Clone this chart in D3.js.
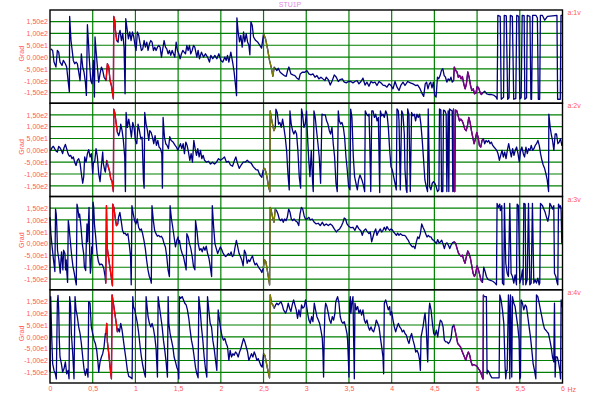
<!DOCTYPE html>
<html>
<head>
<meta charset="utf-8">
<script src="https://cdn.jsdelivr.net/npm/d3@7"></script>
<style>
  body { margin: 0; background: #fff; }
  text { font-family: "Liberation Sans", Arial, sans-serif; }
</style>
</head>
<body>
<script>
const title = "STU1P";
const channels = ["a:1v", "a:2v", "a:3v", "a:4v"];
const yLabel = "Grad";
const yTicks = [150, 100, 50, 0, -50, -100, -150];
const yTickLabels = ["1,50e2", "1,00e2", "5,00e1", "0,00e0", "-5,00e1", "-1,00e2", "-1,50e2"];
const xTicks = [0, 0.5, 1, 1.5, 2, 2.5, 3, 3.5, 4, 4.5, 5, 5.5, 6];
const xTickLabels = ["0", "0,5", "1", "1,5", "2", "2,5", "3", "3,5", "4", "4,5", "5", "5,5", "6"];
const xUnit = "Hz";
// highlighted frequency bands (Hz)
const bandRanges = [[0.65, 0.795], [2.485, 2.64], [4.72, 5.075]];

// [Hz, Grad]
const grad1 = [[0.008,35],[0.031,28],[0.047,-21],[0.070,-42],[0.086,28],[0.102,21],[0.117,-21],[0.141,-35],[0.156,-14],[0.180,-28],[0.195,-42],[0.215,-110],[0.227,-148],[0.230,172],[0.246,70],[0.262,21],[0.273,-14],[0.289,-28],[0.305,-21],[0.320,-28],[0.336,-63],[0.352,-99],[0.367,14],[0.383,-42],[0.398,-63],[0.414,-106],[0.426,-162],[0.438,137],[0.449,70],[0.461,-14],[0.477,-99],[0.492,-113],[0.508,-14],[0.520,-169],[0.527,85],[0.539,28],[0.555,-42],[0.570,-106],[0.586,-70],[0.602,-42],[0.617,-56],[0.633,-85],
  [0.656,-99],[0.672,-28],[0.688,-42],[0.703,-99],[0.719,-120],[0.730,-148],[0.742,-176],[0.746,172],[0.758,155],[0.766,113],[0.781,70],[0.797,63],
  [0.805,92],[0.820,113],[0.836,70],[0.852,99],[0.867,42],[0.879,-155],[0.887,162],[0.902,120],[0.918,77],[0.934,106],[0.949,70],[0.965,106],[0.980,85],[0.996,49],[1.008,28],[1.023,106],[1.039,92],[1.055,56],[1.070,28],[1.086,35],[1.102,70],[1.117,42],[1.133,63],[1.148,28],[1.164,56],[1.180,70],[1.195,63],[1.211,28],[1.227,42],[1.242,28],[1.258,42],[1.273,49],[1.289,42],[1.305,0],[1.320,35],[1.336,70],[1.352,42],[1.367,35],[1.383,14],[1.398,28],[1.414,7],[1.430,28],[1.445,14],[1.461,0],[1.477,63],[1.492,28],[1.508,14],[1.523,-7],[1.539,14],[1.555,28],[1.570,21],[1.586,14],[1.602,49],[1.617,28],[1.633,49],[1.648,14],[1.664,28],[1.680,49],[1.695,42],
  [1.719,0],[1.734,28],[1.750,-7],[1.773,21],[1.797,0],[1.820,14],[1.844,0],[1.867,-21],[1.883,7],[1.906,-7],[1.930,7],[1.953,-7],[1.977,14],[2.000,-14],[2.023,-21],[2.047,0],[2.063,-14],[2.078,7],[2.094,-21],[2.117,21],[2.141,-28],[2.156,-64],[2.172,-120],[2.184,-163],[2.188,166],[2.203,106],[2.219,64],[2.234,92],[2.250,42],[2.266,106],[2.281,64],[2.297,99],[2.313,64],[2.328,50],[2.340,10],[2.352,149],[2.367,135],[2.383,85],[2.406,71],[2.430,64],[2.453,52],[2.477,38],
  [2.500,99],[2.523,78],[2.547,35],[2.570,-14],[2.594,-50],[2.609,-81],
  [2.625,-42],[2.641,-50],[2.656,-57],[2.672,-47],[2.695,-64],[2.719,-71],[2.742,-78],[2.766,-81],[2.781,-57],[2.797,-42],[2.820,-71],[2.844,-75],[2.867,-78],[2.891,-89],[2.914,-95],[2.930,-71],[2.953,-64],[2.984,-64],[3.008,-57],[3.031,-71],[3.055,-75],[3.078,-71],[3.102,-85],[3.125,-78],[3.148,-92],[3.172,-85],[3.195,-92],[3.219,-99],[3.234,-85],[3.258,-95],[3.281,-118],[3.305,-99],[3.328,-75],[3.352,-85],[3.375,-103],[3.398,-95],[3.422,-92],[3.445,-106],[3.469,-109],[3.492,-103],[3.523,-103],[3.547,-109],[3.570,-103],[3.594,-99],[3.617,-113],[3.641,-103],[3.664,-89],[3.688,-118],[3.711,-106],[3.734,-123],[3.758,-103],[3.781,-109],[3.805,-106],[3.828,-120],[3.852,-103],[3.875,-109],[3.898,-118],[3.922,-120],[3.945,-127],[3.969,-113],[3.992,-120],[4.016,-134],[4.039,-103],[4.063,-127],[4.086,-141],[4.109,-118],[4.133,-106],[4.156,-120],[4.188,-103],[4.219,-109],[4.250,-113],[4.281,-120],[4.305,-118],[4.328,-131],[4.352,-151],[4.375,-166],
  [4.393,-113],[4.409,-106],[4.425,-134],[4.441,-113],[4.457,-106],[4.472,-130],[4.488,-106],[4.504,-162],[4.520,-169],[4.536,-85],[4.551,-92],[4.567,-78],[4.583,-56],[4.599,-49],[4.615,-78],[4.630,-85],[4.646,-106],[4.662,-92],[4.678,-99],[4.694,-85],[4.709,-106],[4.725,-99],
  [4.733,-42],[4.749,-56],[4.765,-63],[4.781,-85],[4.796,-78],[4.812,-92],[4.828,-82],[4.844,-113],[4.860,-134],[4.875,-113],[4.891,-63],[4.907,-85],[4.923,-120],[4.939,-141],[4.955,-134],[4.970,-155],[4.986,-152],[5.002,-124],[5.018,-130],[5.034,-148],[5.049,-158],[5.065,-152],
  [5.089,-144],[5.113,-155],[5.136,-158],[5.168,-158],[5.200,-162],[5.223,-169],[5.235,-178],[5.243,176],[5.271,172],[5.283,-178],[5.310,-170],[5.318,176],[5.342,174],[5.358,-178],[5.374,-172],[5.389,176],[5.413,172],[5.429,-178],[5.453,-175],[5.464,176],[5.488,172],[5.500,-177],[5.516,-172],[5.528,176],[5.551,175],[5.559,-178],[5.579,-172],[5.587,176],[5.619,172],[5.630,-178],[5.638,-178],[5.650,176],[5.690,176],[5.706,165],[5.717,-178],[5.733,-178],[5.741,176],[5.765,176],[5.792,156],[5.824,172],[5.883,174],[5.935,176],[5.943,-178],[5.974,-178],[5.982,176],[6.0,176]];

const grad2 = [[0.008,0],[0.023,11],[0.039,17],[0.055,7],[0.070,-3],[0.086,-7],[0.102,17],[0.117,11],[0.133,0],[0.148,-14],[0.164,11],[0.180,25],[0.195,7],[0.211,-14],[0.227,-25],[0.242,-21],[0.258,-35],[0.273,-28],[0.289,-50],[0.305,-64],[0.320,-42],[0.336,-35],[0.352,-54],[0.367,-99],[0.383,-139],[0.395,-111],[0.406,-28],[0.422,-50],[0.438,-14],[0.453,3],[0.469,-28],[0.484,-14],[0.500,-99],[0.508,-50],[0.523,-50],[0.539,7],[0.555,-28],[0.570,-99],[0.586,-132],[0.602,-64],[0.617,-7],[0.625,-56],[0.641,-85],[0.648,-92],
  [0.664,-42],[0.680,-67],[0.695,-85],[0.711,-120],[0.727,-132],[0.742,-174],[0.746,174],[0.758,160],[0.773,118],[0.789,76],
  [0.805,62],[0.820,83],[0.828,111],[0.844,83],[0.859,42],[0.875,-28],[0.883,-174],[0.891,160],[0.906,97],[0.922,132],[0.938,97],[0.953,56],[0.969,118],[0.984,97],[1.000,42],[1.016,28],[1.031,111],[1.047,83],[1.063,49],[1.078,56],[1.094,-125],[1.102,-160],[1.109,160],[1.125,111],[1.141,83],[1.156,42],
  [1.168,83],[1.184,76],[1.199,56],[1.215,28],[1.230,62],[1.246,21],[1.262,42],[1.277,14],[1.293,7],[1.309,-14],[1.316,-160],[1.324,139],[1.340,56],[1.355,28],[1.371,21],[1.387,7],[1.402,58],[1.418,42],[1.441,35],[1.465,21],[1.480,14],[1.496,0],[1.512,14],[1.527,28],[1.543,7],[1.559,28],[1.574,-14],[1.590,35],[1.605,21],[1.621,-7],[1.637,-42],[1.652,-14],[1.668,-50],[1.684,42],[1.699,7],[1.715,-21],[1.730,7],[1.746,-28],[1.762,0],[1.777,-35],[1.793,-21],[1.809,-42],[1.832,-50],[1.855,-46],[1.879,-58],[1.902,-50],[1.926,-58],[1.949,-50],[1.973,-35],[1.996,-42],[2.020,-35],[2.043,-28],[2.066,-50],[2.090,-46],[2.113,-62],[2.137,-67],[2.160,-42],[2.176,-28],[2.191,-50],[2.215,-76],[2.238,-62],[2.262,-50],[2.285,-50],[2.309,-42],[2.332,-50],[2.355,-54],[2.379,-69],[2.410,-81],[2.434,-83],[2.457,-104],[2.480,-114],
  [2.496,-83],[2.512,-76],[2.527,-90],[2.543,-118],[2.559,-153],[2.574,-174],[2.578,167],[2.590,139],[2.605,111],[2.621,83],[2.637,97],
  [2.645,174],[2.660,160],[2.676,111],[2.691,118],[2.707,97],[2.723,132],[2.738,97],[2.754,56],[2.770,0],[2.785,-97],[2.801,-167],[2.809,167],[2.824,111],[2.840,83],[2.855,69],[2.871,83],[2.887,69],[2.902,0],[2.918,-111],[2.934,-160],[2.945,175],[2.957,153],[2.973,97],[2.988,111],[3.004,167],[3.012,83],[3.027,-28],[3.043,-111],[3.059,0],[3.074,-132],[3.082,-174],[3.090,167],[3.105,139],[3.121,83],[3.137,28],[3.152,-28],[3.168,-139],[3.184,153],[3.199,150],[3.223,150],[3.238,125],[3.254,111],[3.270,83],[3.285,69],[3.301,97],[3.316,28],[3.332,-28],[3.348,-139],[3.363,-174],[3.375,167],[3.387,125],[3.402,111],[3.418,118],[3.434,97],[3.449,56],[3.465,-28],[3.480,-83],[3.496,-153],[3.512,-167],[3.520,174],[3.535,139],[3.551,-28],[3.566,-111],[3.582,-139],[3.598,-167],[3.613,-125],[3.629,-104],[3.652,-125],[3.668,-146],[3.684,-174],[3.691,167],[3.707,153],[3.724,146],
  [3.735,153],[3.743,42],[3.755,-174],[3.767,167],[3.782,167],[3.798,139],[3.813,153],[3.829,125],[3.844,139],[3.860,-178],[3.868,167],[3.883,146],[3.899,153],[3.914,139],[3.930,167],[3.946,153],[3.961,97],[3.977,0],[3.992,-69],[4.008,-83],[4.023,-111],[4.039,-139],[4.054,-167],[4.062,175],[4.078,167],[4.086,125],[4.101,-167],[4.117,167],[4.132,153],[4.148,69],[4.156,-83],[4.171,-167],[4.179,-178],[4.187,175],[4.202,153],[4.218,-174],[4.233,160],[4.249,146],[4.265,153],[4.280,125],[4.296,153],[4.311,139],[4.327,153],[4.342,111],[4.358,42],[4.374,-42],[4.389,-125],[4.405,-153],[4.420,-174],[4.428,175],[4.444,-153],[4.459,-167],[4.475,-139],[4.490,-132],[4.506,-139],[4.521,-153],[4.537,-174],[4.553,-167],[4.560,175],[4.576,170],[4.584,-174],[4.599,-174],[4.607,170],[4.623,167],[4.638,153],[4.646,-174],[4.661,167],[4.669,-174],[4.677,175],[4.693,170],[4.708,167],[4.716,-174],[4.724,175],
  [4.732,-174],[4.739,-174],[4.747,170],[4.763,167],[4.778,146],[4.794,125],[4.809,132],[4.825,125],[4.840,111],[4.856,90],[4.872,83],[4.887,104],[4.903,139],[4.918,118],[4.934,83],[4.949,56],[4.965,28],[4.981,49],[4.996,76],[5.012,56],[5.027,21],[5.043,14],[5.058,42],
  [5.074,49],[5.089,28],[5.105,42],[5.121,35],[5.136,42],[5.152,28],[5.167,35],[5.183,21],[5.198,14],[5.214,7],[5.230,0],[5.245,-14],[5.261,-42],[5.276,-21],[5.292,0],[5.307,-28],[5.323,-7],[5.339,-35],[5.354,0],[5.370,28],[5.385,0],[5.401,-28],[5.416,7],[5.432,-21],[5.447,0],[5.463,14],[5.479,-14],[5.494,-49],[5.510,0],[5.525,14],[5.541,-14],[5.556,-28],[5.572,14],[5.588,-14],[5.603,7],[5.619,0],[5.634,21],[5.650,0],[5.665,7],[5.681,21],[5.696,28],[5.712,42],[5.728,21],[5.743,-14],[5.759,-42],[5.774,-62],[5.790,-76],[5.805,-97],[5.821,-125],[5.837,-174],[5.840,153],[5.856,97],[5.868,69],[5.883,42],[5.899,0],[5.914,69],[5.930,69],[5.946,28],[5.961,35],[5.977,49],[5.992,21],[6.0,28]];

const grad3 = [[0.0,111],[0.010,42],[0.025,-14],[0.041,-69],[0.057,-118],[0.065,146],[0.073,125],[0.080,69],[0.088,-28],[0.104,-69],[0.120,-125],[0.127,-76],[0.135,-35],[0.151,-111],[0.159,-28],[0.175,-42],[0.182,-111],[0.190,-69],[0.198,-125],[0.206,-164],[0.214,97],[0.222,76],[0.237,14],[0.253,-49],[0.269,-97],[0.284,-125],[0.300,-160],[0.308,-174],[0.316,167],[0.324,153],[0.339,111],[0.347,125],[0.363,69],[0.378,0],[0.394,-42],[0.402,-97],[0.418,-114],[0.425,0],[0.433,83],[0.441,7],[0.457,153],[0.465,-42],[0.473,-125],[0.480,-97],[0.488,-14],[0.496,-42],[0.504,175],[0.512,153],[0.520,83],[0.535,28],[0.551,-42],[0.567,-76],[0.582,-90],[0.598,-86],[0.614,-90],[0.629,-104],[0.645,-139],
  [0.653,-167],[0.661,160],[0.669,-14],[0.684,-55],[0.700,-97],[0.716,-139],[0.731,-178],[0.735,167],[0.747,153],[0.763,111],[0.778,76],[0.794,83],
  [0.802,111],[0.818,132],[0.833,97],[0.849,56],[0.865,42],[0.880,44],[0.896,35],[0.912,42],[0.927,0],[0.943,-55],[0.951,-174],[0.959,160],[0.975,125],[0.990,97],[1.006,83],[1.022,104],[1.037,69],[1.053,56],[1.069,62],[1.084,42],[1.100,14],[1.116,-21],[1.131,-69],[1.147,-111],[1.163,-139],[1.178,-153],[1.186,-167],[1.194,160],[1.210,97],[1.225,56],[1.241,42],[1.257,31],[1.273,35],[1.288,28],[1.304,31],[1.320,21],[1.335,0],[1.351,-14],[1.367,-55],[1.382,-111],[1.398,-139],[1.406,160],[1.422,104],[1.437,69],[1.453,28],[1.469,-14],[1.484,14],[1.500,28],[1.508,0],[1.516,14],[1.531,-21],[1.547,-42],[1.563,-55],[1.578,-83],[1.594,-111],[1.602,42],[1.618,28],[1.633,0],[1.649,-21],[1.665,-55],[1.680,-97],[1.696,-111],[1.704,97],[1.720,56],[1.735,0],[1.751,-28],[1.767,-21],[1.782,-35],[1.798,-14],[1.814,-28],[1.829,-11],[1.845,-42],[1.861,-62],[1.876,-97],[1.892,-139],[1.900,160],[1.916,69],[1.931,0],[1.947,-21],[1.963,-42],[1.978,-28],[1.994,-14],[2.010,-25],[2.025,-39],[2.041,-49],[2.057,-55],[2.073,-49],[2.088,-42],[2.104,-49],[2.120,-35],[2.135,-55],[2.151,-49],[2.167,-14],[2.182,14],[2.198,-14],[2.214,-42],[2.229,-55],[2.245,-69],[2.261,-94],[2.276,-28],[2.292,-42],[2.308,-83],[2.324,-69],[2.339,-76],[2.355,-62],[2.371,-52],[2.386,-76],[2.402,-90],[2.418,-83],[2.433,-94],[2.449,-104],[2.465,-111],[2.480,-122],
  [2.496,-104],[2.512,-69],[2.527,-76],[2.543,-111],[2.559,-146],[2.571,-174],[2.578,153],[2.590,139],[2.606,111],[2.622,90],
  [2.637,146],[2.653,139],[2.669,125],[2.684,104],[2.700,97],[2.716,104],[2.731,90],[2.747,104],[2.763,97],[2.778,111],[2.794,146],[2.810,132],[2.825,104],[2.841,97],[2.857,104],[2.873,97],[2.896,90],[2.912,76],[2.927,125],[2.943,153],[2.959,146],[2.975,118],[2.990,104],
  [3.008,104],[3.031,111],[3.047,100],[3.070,104],[3.094,90],[3.117,83],[3.141,86],[3.164,76],[3.188,90],[3.211,76],[3.234,83],[3.258,76],[3.281,83],[3.305,76],[3.328,62],[3.352,49],[3.367,56],[3.391,62],[3.414,76],[3.430,90],[3.445,108],[3.461,104],[3.477,83],[3.500,72],[3.523,67],[3.547,69],[3.570,56],[3.594,76],[3.617,62],[3.641,53],[3.656,35],[3.672,53],[3.695,62],[3.711,53],[3.734,42],[3.750,49],[3.766,7],[3.781,28],[3.797,49],[3.813,62],[3.828,35],[3.844,49],[3.867,62],[3.883,49],[3.898,56],[3.914,69],[3.930,56],[3.945,72],[3.961,62],[3.977,56],[3.992,62],[4.008,58],[4.023,49],[4.039,42],[4.055,35],[4.070,44],[4.086,35],[4.102,42],[4.125,35],[4.148,35],[4.164,31],[4.180,21],[4.195,14],[4.211,0],[4.227,-7],[4.242,-14],[4.258,-11],[4.273,-21],[4.289,7],[4.305,28],[4.320,21],[4.336,42],[4.352,83],[4.367,69],[4.383,56],[4.398,42],[4.414,28],[4.430,35],[4.445,28],[4.461,28],[4.477,17],[4.492,14],[4.508,7],[4.523,0],[4.539,17],[4.555,3],[4.570,7],[4.586,14],[4.602,-3],[4.617,-21],[4.633,0],[4.648,3],[4.664,-7],[4.680,-21],[4.695,-7],[4.711,3],
  [4.727,7],[4.734,7],[4.750,0],[4.766,-21],[4.781,-39],[4.797,-49],[4.813,-53],[4.828,-49],[4.844,-69],[4.859,-83],[4.875,-55],[4.891,-31],[4.906,-42],[4.922,-62],[4.938,-94],[4.953,-125],[4.969,-139],[4.984,-125],[5.000,-94],[5.016,-111],[5.031,-132],[5.047,-156],[5.063,-164],
  [5.078,-100],[5.094,-118],[5.109,-139],[5.125,-150],[5.141,-153],[5.164,-156],[5.188,-160],[5.211,-167],[5.227,-174],[5.234,170],[5.250,153],[5.266,167],[5.273,139],[5.289,160],[5.297,-167],[5.313,-174],[5.320,170],[5.336,-83],[5.352,-125],[5.367,-139],[5.383,170],[5.398,-125],[5.414,-139],[5.430,-167],[5.445,-132],[5.461,-174],[5.469,167],[5.484,160],[5.500,-167],[5.516,-146],[5.531,-111],[5.539,-174],[5.547,170],[5.563,167],[5.570,-174],[5.586,-153],[5.602,170],[5.617,-174],[5.633,-167],[5.648,170],[5.664,-167],[5.680,-153],[5.695,-167],[5.711,-146],[5.727,-174],[5.734,-167],[5.742,170],[5.766,160],[5.781,146],[5.797,132],[5.813,111],[5.828,94],[5.844,125],[5.852,170],[5.867,160],[5.883,146],[5.898,160],[5.906,-125],[5.922,-139],[5.938,-167],[5.945,-174],[5.953,167],[5.969,153],[5.977,160],[5.984,139],[5.992,0],[6.0,0]];

const grad4 = [[0,-149],[0.008,170],[0.020,0],[0.031,-113],[0.047,-142],[0.063,-156],[0.074,-178],[0.086,143],[0.094,175],[0.102,114],[0.109,-14],[0.117,-85],[0.133,-113],[0.148,-149],[0.164,-135],[0.180,-106],[0.195,-156],[0.211,-142],[0.223,-177],[0.230,170],[0.242,128],[0.250,14],[0.266,-71],[0.281,-177],[0.293,170],[0.305,114],[0.320,85],[0.336,42],[0.352,14],[0.367,-28],[0.383,-85],[0.398,-135],[0.414,-163],[0.430,-135],[0.445,-170],[0.453,149],[0.469,142],[0.477,85],[0.484,42],[0.500,14],[0.516,-14],[0.531,-28],[0.547,-57],[0.563,-113],[0.570,-149],[0.586,-106],[0.602,-85],[0.617,-71],[0.633,-42],[0.648,14],
  [0.656,14],[0.664,57],[0.672,-21],[0.688,-71],[0.703,-128],[0.719,-177],[0.727,177],[0.742,142],[0.758,100],[0.773,64],[0.789,21],
  [0.797,35],[0.813,21],[0.828,57],[0.844,28],[0.859,-14],[0.875,-57],[0.891,-99],[0.906,-142],[0.922,-167],[0.938,-170],[0.961,-177],[0.969,170],[0.977,128],[0.992,114],[1.008,85],[1.023,57],[1.039,14],[1.055,-42],[1.070,-85],[1.086,-121],[1.102,-149],[1.117,-170],[1.125,170],[1.133,142],[1.148,85],[1.164,57],[1.180,42],[1.195,57],[1.211,35],[1.227,0],[1.242,-50],[1.258,-170],[1.266,170],[1.281,128],[1.297,85],[1.313,42],[1.328,-14],[1.344,-57],[1.359,-106],[1.375,-170],[1.383,170],[1.391,57],[1.406,14],[1.422,-14],[1.438,-42],[1.453,-85],[1.469,-106],[1.484,-128],[1.500,-142],[1.508,-178],[1.516,170],[1.531,163],[1.547,170],[1.563,156],[1.578,142],[1.594,135],[1.609,114],[1.625,78],[1.641,28],[1.656,-14],[1.672,-42],[1.688,-85],[1.703,-128],[1.719,-156],[1.734,-173],[1.742,170],[1.758,114],[1.773,42],[1.789,-14],[1.805,-85],[1.820,-135],[1.836,-170],[1.844,170],[1.859,114],[1.875,57],[1.891,42],[1.906,-14],[1.922,-50],[1.938,-99],[1.953,-142],[1.969,114],[1.984,71],[2.000,28],[2.016,0],[2.031,-14],[2.047,-7],[2.063,-28],[2.078,-42],[2.094,-99],[2.109,-57],[2.125,-85],[2.141,-71],[2.156,-78],[2.172,-64],[2.188,-71],[2.203,-85],[2.219,-64],[2.234,-50],[2.250,-28],[2.266,-7],[2.281,-21],[2.297,-42],[2.313,-64],[2.328,-99],[2.344,-85],[2.359,-71],[2.375,-85],[2.391,-64],[2.406,-78],[2.422,-99],[2.438,-92],[2.453,-106],[2.469,-121],
  [2.484,-128],[2.500,-71],[2.516,-78],[2.531,-106],[2.547,-135],[2.563,-163],[2.570,-173],[2.578,177],[2.594,142],[2.609,135],[2.625,121],[2.641,135],
  [2.656,142],[2.672,135],[2.688,142],[2.703,149],[2.719,135],[2.734,114],[2.758,100],[2.773,114],[2.789,142],[2.805,121],[2.820,107],[2.836,135],[2.852,156],[2.867,135],[2.883,114],[2.898,78],[2.914,114],[2.930,85],
  [2.945,135],[2.961,121],[2.977,128],[2.992,156],[3.000,142],[3.016,100],[3.031,71],[3.047,57],[3.063,85],[3.078,64],[3.094,142],[3.109,114],[3.125,85],[3.141,71],[3.156,57],[3.172,28],[3.188,-7],[3.195,-64],[3.203,-170],[3.211,14],[3.219,114],[3.227,142],[3.242,128],[3.258,100],[3.273,71],[3.289,57],[3.305,85],[3.320,71],[3.336,100],[3.344,142],[3.352,156],[3.367,170],[3.383,142],[3.398,85],[3.414,64],[3.430,57],[3.445,64],[3.461,42],[3.477,14],[3.484,-14],[3.492,-85],[3.500,-170],[3.508,142],[3.516,170],[3.523,100],[3.531,135],[3.547,170],[3.555,-14],[3.563,-177],[3.570,142],[3.586,114],[3.602,128],[3.617,100],[3.633,114],[3.648,92],[3.664,114],[3.680,71],[3.695,57],[3.711,71],[3.727,42],[3.742,28],[3.758,42],[3.773,28],[3.789,21],[3.805,42],[3.820,71],[3.836,57],[3.852,42],[3.867,0],[3.883,-42],[3.898,-85],[3.906,-156],[3.914,142],[3.930,156],[3.945,135],[3.961,114],[3.977,128],[3.984,92],[4.000,107],[4.016,71],[4.031,42],[4.047,21],[4.063,42],[4.078,57],[4.094,42],[4.109,35],[4.125,21],[4.141,28],[4.156,14],[4.172,7],[4.188,-14],[4.203,-28],[4.219,0],[4.234,14],[4.250,-14],[4.266,-35],[4.281,-64],[4.297,-57],[4.313,-71],[4.328,-99],[4.336,-142],[4.344,0],[4.352,14],[4.367,42],[4.383,85],[4.391,100],[4.406,28],[4.422,-106],[4.430,42],[4.438,114],[4.445,142],[4.461,114],[4.477,57],[4.492,14],[4.508,7],[4.523,28],[4.539,0],[4.555,42],[4.570,71],[4.586,64],[4.602,42],[4.617,-14],[4.633,-21],[4.648,-21],[4.664,-28],[4.680,-21],[4.695,-7],[4.711,42],
  [4.727,50],[4.742,28],[4.758,0],[4.773,-28],[4.789,-35],[4.805,-42],[4.820,-57],[4.836,-71],[4.852,-85],[4.867,-99],[4.883,-78],[4.898,-64],[4.914,-78],[4.930,-106],[4.945,-121],[4.961,-117],[4.984,-121],[5.000,-125],[5.016,-135],[5.031,-142],[5.047,-156],[5.063,-173],[5.070,-178],[5.074,177],
  [5.082,170],[5.094,170],[5.109,170],[5.117,-156],[5.125,-142],[5.141,-149],[5.156,-163],[5.172,-173],[5.195,-173],[5.227,-173],[5.258,-173],[5.266,177],[5.281,156],[5.297,114],[5.313,57],[5.328,-128],[5.336,-177],[5.344,-142],[5.352,-142],[5.367,177],[5.375,128],[5.383,-177],[5.391,177],[5.406,-170],[5.414,170],[5.430,142],[5.445,128],[5.461,85],[5.477,42],[5.492,-14],[5.500,-178],[5.508,-170],[5.516,156],[5.531,142],[5.547,114],[5.563,135],[5.578,128],[5.594,85],[5.609,42],[5.625,0],[5.641,-57],[5.656,-113],[5.672,-142],[5.688,-177],[5.695,177],[5.711,170],[5.727,142],[5.742,114],[5.758,85],[5.773,57],[5.789,35],[5.805,28],[5.820,21],[5.836,14],[5.852,-14],[5.867,-42],[5.883,-85],[5.898,-106],[5.906,142],[5.914,-170],[5.922,-85],[5.938,-85],[5.953,-106],[5.969,-142],[5.977,-177],[5.984,156],[5.992,128],[6.0,142]];

const width = 596, height = 393;
const plot = {left: 50, right: 562.5, top: 10, panelH: 93.25};
const bandColors = ["#ff0000", "#808000", "#800080"];
const labelColor = "#ff5a5a";

const svg = d3.select("body").append("svg")
    .attr("width", width).attr("height", height);

const x = d3.scaleLinear().domain([0, 6]).range([plot.left, plot.right]);

const line = d3.line();

[grad1, grad2, grad3, grad4].forEach(function (data, i) {
    const top = plot.top + i * plot.panelH;
    const y = d3.scaleLinear().domain([-195, 199]).range([top + plot.panelH, top]);
    line.x(function (d) { return x(d[0]); }).y(function (d) { return y(d[1]); });

    const g = svg.append("g");

    // horizontal grid
    g.selectAll(".hgrid").data(yTicks).enter().append("line")
        .attr("x1", plot.left).attr("x2", plot.right)
        .attr("y1", function (d) { return y(d); }).attr("y2", function (d) { return y(d); })
        .attr("stroke", "#008000").attr("stroke-width", 1.2);

    // vertical grid
    g.selectAll(".vgrid").data(xTicks.slice(1, -1)).enter().append("line")
        .attr("x1", function (d) { return x(d); }).attr("x2", function (d) { return x(d); })
        .attr("y1", top).attr("y2", top + plot.panelH)
        .attr("stroke", "#008000").attr("stroke-width", 1.2);

    // y axis labels
    const ax = g.append("g")
        .attr("transform", "translate(" + plot.left + ",0)")
        .call(d3.axisLeft(y).tickValues(yTicks).tickSize(0).tickPadding(2)
            .tickFormat(function (d, k) { return yTickLabels[k]; }));
    ax.select(".domain").remove();
    ax.selectAll("text").attr("fill", labelColor).style("font-size", "7px");

    g.append("text")
        .attr("transform", "translate(24," + (top + plot.panelH / 2 - 3) + ") rotate(-90)")
        .attr("text-anchor", "middle")
        .attr("fill", labelColor).style("font-size", "7px")
        .text(yLabel);

    // traces
    g.append("path").datum(data)
        .attr("d", line)
        .attr("fill", "none").attr("stroke", "#000080").attr("stroke-width", 1.3)
        .attr("stroke-linejoin", "round");

    bandRanges.forEach(function (b, k) {
        const part = data.filter(function (d) { return d[0] >= b[0] && d[0] <= b[1]; });
        g.append("path").datum(part)
            .attr("d", line)
            .attr("fill", "none").attr("stroke", bandColors[k]).attr("stroke-width", 1.3)
            .attr("stroke-linejoin", "round");
    });

    // frame
    g.append("rect")
        .attr("x", plot.left).attr("y", top)
        .attr("width", plot.right - plot.left).attr("height", plot.panelH)
        .attr("fill", "none").attr("stroke", "#000").attr("stroke-width", 1.4);

    g.append("text")
        .attr("x", plot.right + 5).attr("y", top + 5)
        .attr("fill", labelColor).style("font-size", "7px")
        .text(channels[i]);
});

// x axis
const bottom = plot.top + 4 * plot.panelH;
const xa = svg.append("g")
    .attr("transform", "translate(0," + bottom + ")")
    .call(d3.axisBottom(x).tickValues(xTicks).tickSize(0).tickPadding(3)
        .tickFormat(function (d, k) { return xTickLabels[k]; }));
xa.select(".domain").remove();
xa.selectAll("text").attr("fill", labelColor).style("font-size", "7px");

svg.append("text")
    .attr("x", plot.right + 5).attr("y", bottom + 9)
    .attr("fill", labelColor).style("font-size", "7px")
    .text(xUnit);

svg.append("text")
    .attr("x", 290).attr("y", 7)
    .attr("text-anchor", "middle")
    .attr("fill", "#e08ae0").style("font-size", "7px")
    .text(title);
</script>
</body>
</html>
